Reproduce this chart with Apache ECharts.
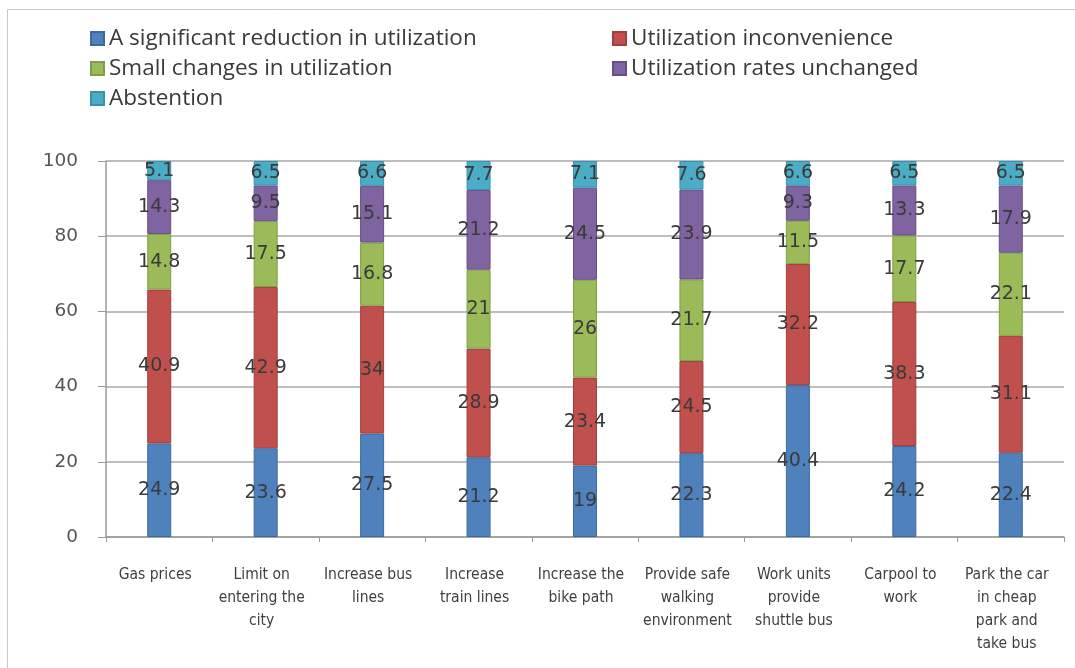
<!DOCTYPE html>
<html>
<head>
<meta charset="utf-8">
<script src="https://cdn.jsdelivr.net/npm/echarts@6/dist/echarts.min.js"></script>
<style>
  html, body { margin: 0; padding: 0; background: #ffffff; }
  #chart { width: 1075px; height: 668px; }
</style>
</head>
<body>
<div id="chart"></div>
<script>
// Survey responses per measure (percent of respondents)
const categories = [
  'Gas prices',
  'Limit on entering the city',
  'Increase bus lines',
  'Increase train lines',
  'Increase the bike path',
  'Provide safe walking environment',
  'Work units provide shuttle bus',
  'Carpool to work',
  'Park the car in cheap park and take bus'
];
const tickLabels = [
  'Gas prices',
  'Limit on\nentering the\ncity',
  'Increase bus\nlines',
  'Increase\ntrain lines',
  'Increase the\nbike path',
  'Provide safe\nwalking\nenvironment',
  'Work units\nprovide\nshuttle bus',
  'Carpool to\nwork',
  'Park the car\nin cheap\npark and\ntake bus'
];
const seriesNames = [
  'A significant reduction in utilization',
  'Utilization inconvenience',
  'Small changes in utilization',
  'Utilization rates unchanged',
  'Abstention'
];
const significantReduction = [24.9, 23.6, 27.5, 21.2, 19, 22.3, 40.4, 24.2, 22.4];
const inconvenience        = [40.9, 42.9, 34, 28.9, 23.4, 24.5, 32.2, 38.3, 31.1];
const smallChanges         = [14.8, 17.5, 16.8, 21, 26, 21.7, 11.5, 17.7, 22.1];
const unchanged            = [14.3, 9.5, 15.1, 21.2, 24.5, 23.9, 9.3, 13.3, 17.9];
const abstention           = [5.1, 6.5, 6.6, 7.7, 7.1, 7.6, 6.6, 6.5, 6.5];
const yTicks = [0, 20, 40, 60, 80, 100];

const colors = ['#4F81BD', '#C0504D', '#9BBB59', '#8064A2', '#4BACC6'];
const borders = ['#3A6AA3', '#A23E3B', '#7F9E45', '#664D86', '#3892AA'];
const values = [significantReduction, inconvenience, smallChanges, unchanged, abstention];

const chart = echarts.init(document.getElementById('chart'));

const series = seriesNames.map((name, i) => ({
  name: name,
  type: 'bar',
  stack: 'total',
  barWidth: 24,
  data: values[i],
  itemStyle: { color: colors[i], borderColor: borders[i], borderWidth: 1 },
  label: {
    show: true,
    position: 'inside',
    color: '#3a3a3a',
    fontFamily: 'DejaVu Sans, Verdana, sans-serif',
    fontSize: 19,
    formatter: p => String(p.value)
  }
}));

const legendText = {
  color: '#3a3a3a',
  fontFamily: 'Open Sans, Noto Sans, sans-serif',
  fontSize: 22.5
};

chart.setOption({
  animation: false,
  backgroundColor: '#ffffff',
  color: colors,
  graphic: [{
    type: 'rect',
    shape: { x: 7.5, y: 9.5, width: 1100, height: 700 },
    style: { fill: 'none', stroke: '#c8c8c8', lineWidth: 1 },
    silent: true,
    z: -10
  }],
  legend: [
    {
      left: 90, top: 27, padding: 0, orient: 'vertical', itemGap: 7,
      icon: 'rect', itemWidth: 13, itemHeight: 13,
      data: [seriesNames[0], seriesNames[2], seriesNames[4]],
      textStyle: legendText
    },
    {
      left: 612, top: 27, padding: 0, orient: 'vertical', itemGap: 7,
      icon: 'rect', itemWidth: 13, itemHeight: 13,
      data: [seriesNames[1], seriesNames[3]],
      textStyle: legendText
    }
  ],
  grid: { left: 106, right: 11, top: 161, bottom: 131, containLabel: false },
  xAxis: {
    type: 'category',
    data: categories,
    axisLine: { lineStyle: { color: '#9a9a9a', width: 1.5 } },
    axisTick: { show: true, length: 5, lineStyle: { color: '#9a9a9a' } },
    axisLabel: {
      interval: 0,
      margin: 26,
      color: '#3f3f3f',
      fontFamily: 'Liberation Sans Narrow, DejaVu Sans Condensed, sans-serif',
      fontSize: 15.5,
      lineHeight: 23,
      padding: [0, 8, 0, 0],
      formatter: (v, idx) => tickLabels[idx]
    }
  },
  yAxis: {
    type: 'value',
    min: yTicks[0],
    max: yTicks[yTicks.length - 1],
    interval: 20,
    axisLine: { show: true, lineStyle: { color: '#9a9a9a', width: 1.5 } },
    axisTick: { show: true, length: 8, lineStyle: { color: '#9a9a9a' } },
    axisLabel: {
      margin: 28,
      color: '#555555',
      fontFamily: 'DejaVu Sans, Verdana, sans-serif',
      fontSize: 18.5
    },
    splitLine: { lineStyle: { color: '#a8a8a8', width: 1.5 } }
  },
  series: series
});
</script>
</body>
</html>
